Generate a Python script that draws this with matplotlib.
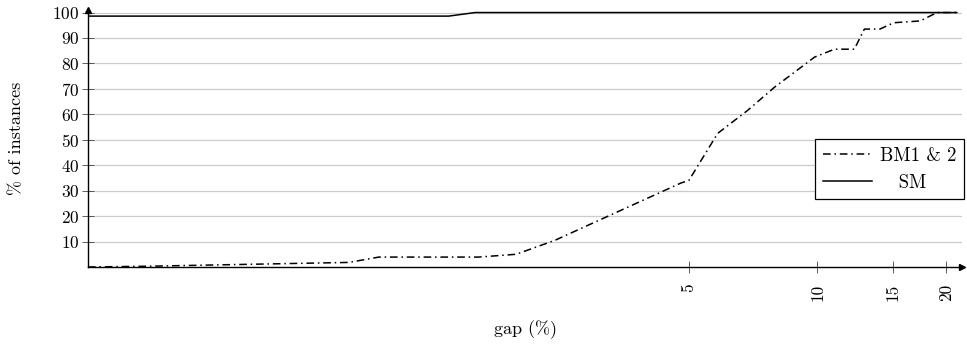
import numpy as np
import matplotlib
matplotlib.use("Agg")
import matplotlib.pyplot as plt

# gap (%) vs cumulative % of instances solved within that gap
bm_gap = [0.196, 0.27, 0.80, 0.94, 1.61, 1.97, 2.43, 4.79, 5.0, 5.84, 6.87,
          7.94, 9.85, 10.96, 12.2, 12.88, 14.0, 15.1, 17.4, 19.05, 21.2]
bm_pct = [0.0, 0.3, 1.8, 3.9, 3.9, 5.0, 10.5, 33.0, 34.0, 52.5, 61.6,
          70.7, 82.5, 85.6, 85.6, 93.5, 93.5, 96.0, 96.7, 100.0, 100.0]

sm_gap = [0.196, 1.37, 1.58, 21.2]
sm_pct = [98.6, 98.6, 100.0, 100.0]

xticks = [5, 10, 15, 20]
yticks = [10, 20, 30, 40, 50, 60, 70, 80, 90, 100]

plt.rcParams['font.family'] = ['cmr10', 'DejaVu Serif']
plt.rcParams['axes.formatter.use_mathtext'] = True
plt.rcParams['font.size'] = 13

fig = plt.figure(figsize=(9.67, 3.47), dpi=100)
ax = fig.add_axes([88 / 967, 1 - 267 / 347, (962 - 88) / 967, (267 - 10) / 347])

ax.plot(bm_gap, bm_pct, color='black', lw=1.1, linestyle=(0, (5, 2.5, 1, 2.5)), label='BM1 & 2')
ax.plot(sm_gap, sm_pct, color='black', lw=1.1, label='   SM')

ax.set_xscale('log')
ax.set_xlim(0.196, 21.8)
ax.set_ylim(0, 101)

ax.set_xticks(xticks)
ax.set_xticklabels([str(t) for t in xticks], rotation=90)
ax.xaxis.set_minor_locator(matplotlib.ticker.NullLocator())
ax.set_yticks(yticks)
ax.yaxis.grid(True, color='#cccccc', lw=0.9)
ax.set_axisbelow(True)
ax.tick_params(direction='inout', length=8, width=0.6, color='#444444', labelsize=12.5)
ax.tick_params(axis='x', pad=8)
ax.tick_params(axis='y', pad=2)

for s in ['top', 'right']:
    ax.spines[s].set_visible(False)
for s in ['left', 'bottom']:
    ax.spines[s].set_linewidth(1.0)
ax.plot(1, 0, '>', color='black', ms=4, transform=ax.transAxes, clip_on=False)
ax.plot(0, 1, '^', color='black', ms=4, transform=ax.transAxes, clip_on=False)

ax.set_xlabel('gap (%)', labelpad=14)
ax.set_ylabel('% of instances', labelpad=20)

leg = ax.legend(loc='center left', bbox_to_anchor=(0.832, 0.38), frameon=True, fancybox=False,
                edgecolor='black', framealpha=1, handlelength=2.65, handletextpad=0.4,
                borderpad=0.4, labelspacing=0.5, borderaxespad=0, fontsize=13.5)
leg.get_frame().set_linewidth(0.9)

fig.savefig('out.png', dpi=100)
